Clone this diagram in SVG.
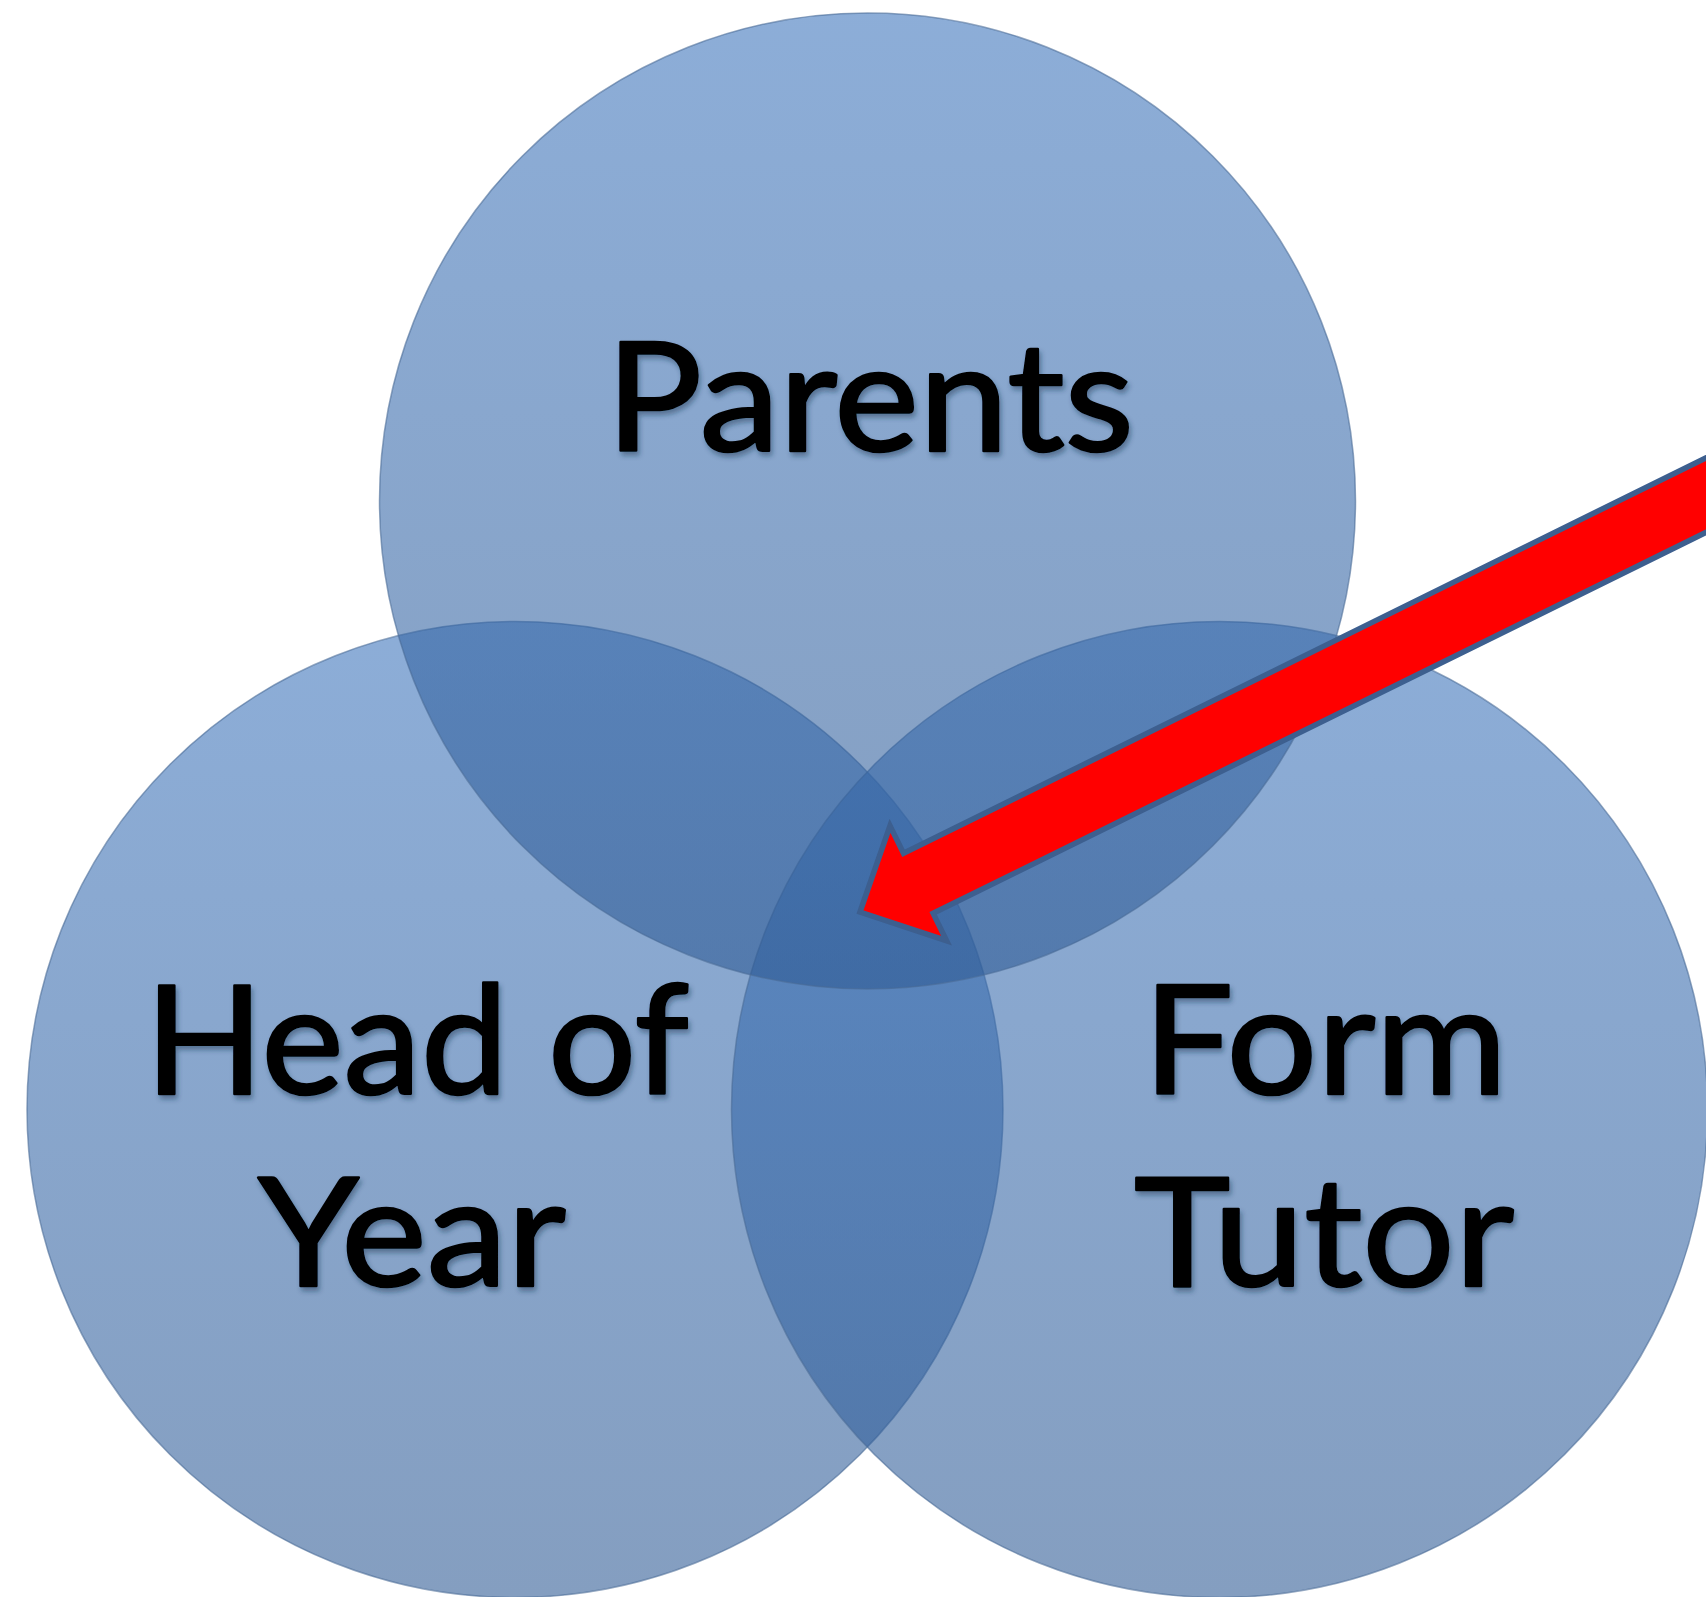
<svg xmlns="http://www.w3.org/2000/svg" width="1706" height="1597" viewBox="0 0 1706 1597">
<style>
.circ{fill:url(#cg);fill-opacity:0.59;stroke:#4A6A96;stroke-opacity:0.6;stroke-width:1.5}
.lbl{font-family:Lato,"Liberation Sans",sans-serif;font-size:151px;fill:#000;stroke:#000;stroke-width:2.5;stroke-linejoin:round;text-anchor:middle;filter:url(#ts)}
.arrow{fill:#FF0000;stroke:#3D5F8F;stroke-width:5.5;stroke-linejoin:miter}
</style>
<defs>
<linearGradient id="cg" x1="0" y1="0" x2="0" y2="1">
<stop offset="0" stop-color="rgb(60,116,188)"/>
<stop offset="1" stop-color="rgb(46,90,148)"/>
</linearGradient>
<filter id="ts" x="-10%" y="-20%" width="120%" height="150%">
<feDropShadow dx="2" dy="4" stdDeviation="2.5" flood-color="#1f3350" flood-opacity="0.45"/>
</filter>
</defs>
<rect width="1706" height="1597" fill="#FFFFFF"/>
<g id="head-of-year">
<circle class="circ" cx="515" cy="1109.5" r="488"/>
</g>
<g id="form-tutor">
<circle class="circ" cx="1219.5" cy="1109.5" r="488"/>
</g>
<g id="parents">
<circle class="circ" cx="867.5" cy="501" r="488"/>
</g>
<g id="labels">
<text class="lbl" x="870" y="451" textLength="528" lengthAdjust="spacingAndGlyphs">Parents</text>
<text class="lbl" x="417" y="1094" textLength="544" lengthAdjust="spacingAndGlyphs">Head of</text>
<text class="lbl" x="412" y="1286" textLength="308" lengthAdjust="spacingAndGlyphs">Year</text>
<text class="lbl" x="1325" y="1094" textLength="364" lengthAdjust="spacingAndGlyphs">Form</text>
<text class="lbl" x="1324" y="1286" textLength="380" lengthAdjust="spacingAndGlyphs">Tutor</text>
</g>
<g id="connectors">
<path class="arrow" d="M 860,912 L 890,825.9 L 903.5,853.3 L 1742.2,440 L 1771.8,500 L 933.1,913.3 L 946.6,940.7 Z"/>
</g>
</svg>
